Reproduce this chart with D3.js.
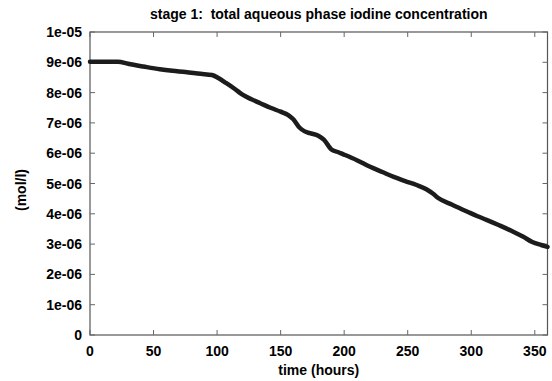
<!DOCTYPE html>
<html>
<head>
<meta charset="utf-8">
<script src="https://cdn.jsdelivr.net/npm/d3@7"></script>
<style>
  body { margin: 0; background: #fff; }
  text { font-family: "Liberation Sans", Arial, sans-serif; font-weight: bold; fill: #000; white-space: pre; }
</style>
</head>
<body>
<div id="chart"></div>
<script>
// time in hours, concentration in mol/l
var hours = [0, 10, 22, 30, 42, 55, 65, 75, 87, 96, 101, 107, 114, 120, 127, 134, 142, 150, 156, 160, 165, 169, 173, 180, 184, 190, 195, 199, 210, 220, 230, 239, 248, 257, 265, 270, 274, 285, 297, 305, 312, 322, 333, 341, 348, 355, 360];
var conc = [9.02e-6, 9.02e-6, 9.02e-6, 8.95e-6, 8.86e-6, 8.77e-6, 8.72e-6, 8.68e-6, 8.62e-6, 8.58e-6, 8.48e-6, 8.32e-6, 8.12e-6, 7.93e-6, 7.78e-6, 7.65e-6, 7.50e-6, 7.37e-6, 7.26e-6, 7.12e-6, 6.84e-6, 6.72e-6, 6.66e-6, 6.57e-6, 6.45e-6, 6.12e-6, 6.04e-6, 5.97e-6, 5.77e-6, 5.56e-6, 5.38e-6, 5.22e-6, 5.08e-6, 4.95e-6, 4.80e-6, 4.66e-6, 4.52e-6, 4.30e-6, 4.07e-6, 3.92e-6, 3.80e-6, 3.62e-6, 3.41e-6, 3.24e-6, 3.07e-6, 2.97e-6, 2.91e-6];
var xTicks = [0, 50, 100, 150, 200, 250, 300, 350];
var yTicks = [0, 1e-6, 2e-6, 3e-6, 4e-6, 5e-6, 6e-6, 7e-6, 8e-6, 9e-6, 1e-5];
var yTickLabels = ['0', '1e-06', '2e-06', '3e-06', '4e-06', '5e-06', '6e-06', '7e-06', '8e-06', '9e-06', '1e-05'];

var width = 552, height = 381;
var margin = {left: 90, right: 4.5, top: 32, bottom: 46};

var svg = d3.select('#chart').append('svg')
  .attr('width', width)
  .attr('height', height);

var x = d3.scaleLinear().domain([0, 360]).range([margin.left, width - margin.right]);
var y = d3.scaleLinear().domain([0, 1e-5]).range([height - margin.bottom, margin.top]);

var tickLen = 5;
var tickColor = '#666';
var fs = '14px';

// frame
svg.append('rect')
  .attr('x', x(0)).attr('y', y(1e-5))
  .attr('width', x(360) - x(0)).attr('height', y(0) - y(1e-5))
  .attr('fill', 'none')
  .attr('stroke', '#555')
  .attr('stroke-width', 1.2);

// ticks on all four sides, pointing inward
svg.selectAll('.xt-bottom').data(xTicks).enter().append('line')
  .attr('x1', d => x(d)).attr('x2', d => x(d))
  .attr('y1', y(0)).attr('y2', y(0) - tickLen)
  .attr('stroke', tickColor);
svg.selectAll('.xt-top').data(xTicks).enter().append('line')
  .attr('x1', d => x(d)).attr('x2', d => x(d))
  .attr('y1', y(1e-5)).attr('y2', y(1e-5) + tickLen)
  .attr('stroke', tickColor);
svg.selectAll('.yt-left').data(yTicks).enter().append('line')
  .attr('x1', x(0)).attr('x2', x(0) + tickLen)
  .attr('y1', d => y(d)).attr('y2', d => y(d))
  .attr('stroke', tickColor);
svg.selectAll('.yt-right').data(yTicks).enter().append('line')
  .attr('x1', x(360)).attr('x2', x(360) - tickLen)
  .attr('y1', d => y(d)).attr('y2', d => y(d))
  .attr('stroke', tickColor);

// tick labels
svg.selectAll('.xl').data(xTicks).enter().append('text')
  .attr('x', d => x(d))
  .attr('y', y(0) + 21)
  .attr('text-anchor', 'middle')
  .style('font-size', fs)
  .text(d => d);
svg.selectAll('.yl').data(yTicks).enter().append('text')
  .attr('x', x(0) - 8)
  .attr('y', d => y(d) + 5)
  .attr('text-anchor', 'end')
  .style('font-size', fs)
  .text((d, i) => yTickLabels[i]);

// the data line
var line = d3.line()
  .x((d, i) => x(hours[i]))
  .y(d => y(d))
  .curve(d3.curveMonotoneX);

svg.append('path')
  .datum(conc)
  .attr('d', line)
  .attr('fill', 'none')
  .attr('stroke', '#1c1c1c')
  .attr('stroke-width', 4.5)
  .attr('stroke-linecap', 'round')
  .attr('stroke-linejoin', 'round');

// title and axis labels
svg.append('text')
  .attr('x', (x(0) + x(360)) / 2)
  .attr('y', 19)
  .attr('text-anchor', 'middle')
  .style('font-size', fs)
  .text('stage 1:  total aqueous phase iodine concentration');

svg.append('text')
  .attr('x', (x(0) + x(360)) / 2)
  .attr('y', 375)
  .attr('text-anchor', 'middle')
  .style('font-size', fs)
  .text('time (hours)');

svg.append('text')
  .attr('transform', 'translate(26,190) rotate(-90)')
  .attr('text-anchor', 'middle')
  .style('font-size', fs)
  .text('(mol/l)');
</script>
</body>
</html>
